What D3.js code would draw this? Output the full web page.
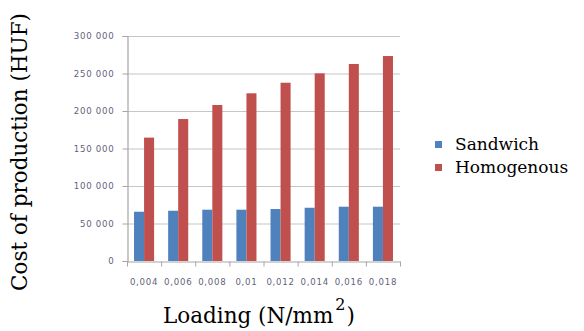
<!DOCTYPE html>
<html>
<head>
<meta charset="utf-8">
<script src="https://cdn.jsdelivr.net/npm/d3@7"></script>
<style>
  html, body { margin: 0; padding: 0; background: #fff; }
  svg { display: block; }
</style>
</head>
<body>
<svg id="chart" width="584" height="331"></svg>
<script>
// Cost of production for sandwich vs homogenous plates at each loading level
const loadings = ["0,004", "0,006", "0,008", "0,01", "0,012", "0,014", "0,016", "0,018"];
const sandwich = [65700, 67000, 68400, 68400, 69300, 71000, 72400, 72400];
const homogenous = [164500, 189300, 208000, 223600, 237700, 250200, 262700, 273300];
const yTicks = [0, 50000, 100000, 150000, 200000, 250000, 300000];
const seriesNames = ["Sandwich", "Homogenous"];
const seriesColors = ["#4F81BD", "#C0504D"];

const svg = d3.select("#chart");
const plot = { left: 127, right: 400, top: 36, bottom: 261 };

const x = d3.scaleBand().domain(loadings).range([plot.left, plot.right]).padding(0);
const x1 = d3.scaleBand().domain(seriesNames).range([0, x.bandwidth()]).paddingOuter(0.7).paddingInner(0);
const y = d3.scaleLinear().domain([0, 300000]).range([plot.bottom, plot.top]);

const tickFont = sel => sel
  .attr("fill", "#62627a")
  .style("font-family", "'DejaVu Sans', sans-serif")
  .style("font-size", "8.6px")
  .style("letter-spacing", "0.75px");

// horizontal gridlines
svg.append("g")
  .selectAll("line")
  .data(yTicks.filter(t => t > 0))
  .join("line")
  .attr("x1", plot.left).attr("x2", plot.right)
  .attr("y1", d => y(d) + 0.5).attr("y2", d => y(d) + 0.5)
  .attr("stroke", "#c6c6c6").attr("stroke-width", 1.2);

// value axis
const yAxis = svg.append("g")
  .attr("transform", `translate(${plot.left + 0.5},0)`)
  .call(d3.axisLeft(y).tickValues(yTicks).tickSize(5).tickPadding(8)
    .tickFormat(d => d === 0 ? "0" : d3.format(",")(d).replace(/,/g, " ")));
yAxis.select(".domain").attr("stroke", "#a6a6a6").attr("stroke-width", 1.2);
yAxis.selectAll(".tick line").attr("stroke", "#a6a6a6");
yAxis.selectAll(".tick text").call(tickFont);

// bars
const rows = loadings.map((l, i) => ({ l, vals: [sandwich[i], homogenous[i]] }));
const groups = svg.append("g").selectAll("g")
  .data(rows)
  .join("g")
  .attr("transform", d => `translate(${x(d.l)},0)`);
groups.selectAll("rect")
  .data(d => d.vals.map((v, k) => ({ name: seriesNames[k], v, k })))
  .join("rect")
  .attr("x", d => x1(d.name))
  .attr("width", x1.bandwidth())
  .attr("y", d => y(d.v))
  .attr("height", d => y(0) - y(d.v))
  .attr("fill", d => seriesColors[d.k]);

// category axis
const xAxis = svg.append("g")
  .attr("transform", `translate(0,${plot.bottom + 0.5})`)
  .call(d3.axisBottom(x).tickSize(0).tickPadding(17));
xAxis.select(".domain").attr("stroke", "#a6a6a6").attr("stroke-width", 1.2);
xAxis.selectAll(".tick text").call(tickFont);
// boundary tick marks between categories
xAxis.append("g").selectAll("line")
  .data(loadings.map(l => x(l)).concat([plot.right]))
  .join("line")
  .attr("x1", d => d + 0.5).attr("x2", d => d + 0.5)
  .attr("y1", 0).attr("y2", 5)
  .attr("stroke", "#a6a6a6");

// axis titles
svg.append("text")
  .attr("transform", `translate(27,152) rotate(-90)`)
  .attr("text-anchor", "middle")
  .style("font-family", "'DejaVu Serif', serif")
  .style("font-size", "21.5px")
  .attr("fill", "#000")
  .text("Cost of production (HUF)");

const xt = svg.append("text")
  .attr("x", 163).attr("y", 323)
  .style("font-family", "'DejaVu Serif', serif")
  .style("font-size", "21.5px")
  .attr("fill", "#000");
xt.append("tspan").text("Loading (N/mm");
xt.append("tspan").attr("dy", -13).attr("dx", 2).style("font-size", "16px").text("2");
xt.append("tspan").attr("dy", 13).attr("dx", 1).text(")");

// legend
const legend = svg.append("g").selectAll("g")
  .data(seriesNames)
  .join("g")
  .attr("transform", (d, i) => `translate(435,${141 + i * 23})`);
legend.append("rect").attr("width", 7).attr("height", 7)
  .attr("fill", (d, i) => seriesColors[i]);
legend.append("text")
  .attr("x", 20).attr("y", 9)
  .style("font-family", "'DejaVu Serif', serif")
  .style("font-size", "17px")
  .attr("fill", "#000")
  .text(d => d);
</script>
</body>
</html>
